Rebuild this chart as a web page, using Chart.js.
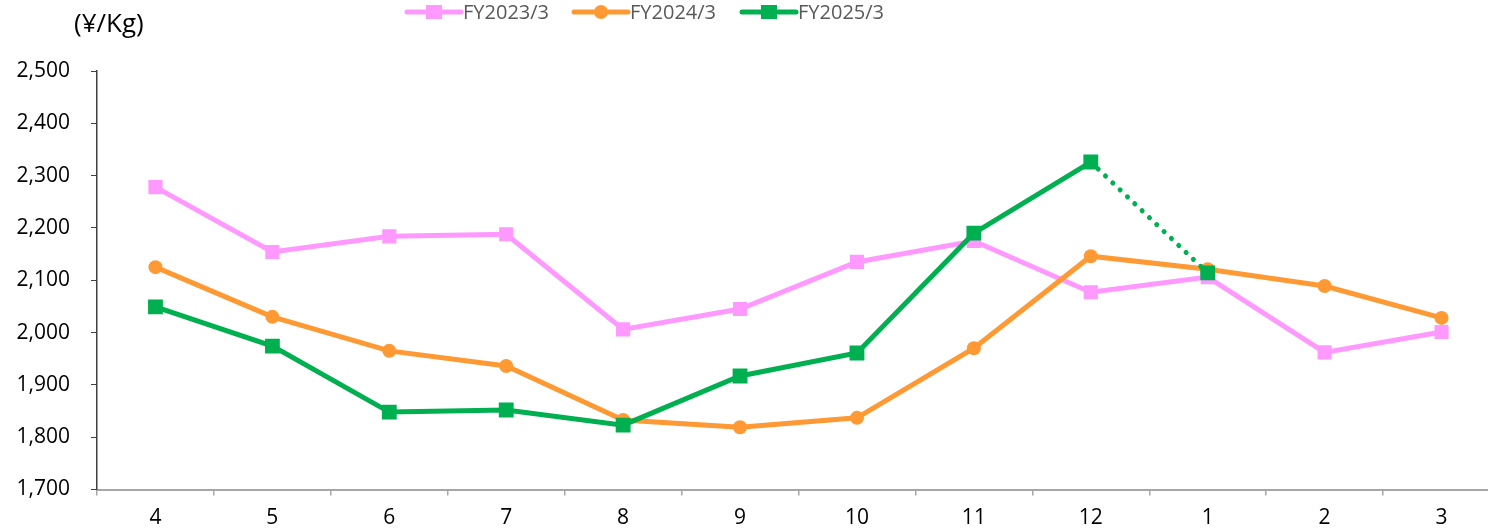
<!DOCTYPE html>
<html lang="ja">
<head>
<meta charset="UTF-8">
<title>単価推移</title>
<script src="https://cdn.jsdelivr.net/npm/chart.js@4.4.1/dist/chart.umd.min.js"></script>
<style>
  html, body { margin: 0; padding: 0; background: #fff; overflow: hidden; }
  /* un poco más ancho que la ventana: el eje x se corta a la derecha como en el original */
  #wrap { width: 1500px; height: 532px; }
</style>
</head>
<body>
<div id="wrap"><canvas id="grafico"></canvas></div>
<script>
// meses del año fiscal (abril a marzo)
const meses = ['4', '5', '6', '7', '8', '9', '10', '11', '12', '1', '2', '3'];
const fy2023 = [2278, 2154, 2184, 2188, 2006, 2045, 2135, 2175, 2077, 2106, 1962, 2001];
const fy2024 = [2125, 2030, 1965, 1936, 1833, 1819, 1837, 1970, 2146, 2121, 2089, 2028];
const fy2025 = [2049, 1974, 1848, 1852, 1823, 1917, 1961, 2190, 2326, 2114, null, null];
const etiquetas = ['FY2023/3', 'FY2024/3', 'FY2025/3'];
const unidad = '(¥/Kg)';

const ROSA = '#FF99FF', NARANJA = '#FF9933', VERDE = '#00B050';
const FUENTE = '"Open Sans", sans-serif';

// leyenda y título del eje dibujados a mano
const extras = {
  id: 'extras',
  afterDraw(chart) {
    const ctx = chart.ctx;
    ctx.save();
    ctx.fillStyle = '#000';
    ctx.font = '26px ' + FUENTE;
    ctx.textBaseline = 'middle';
    ctx.textAlign = 'left';
    ctx.fillText(unidad, 74, 25);

    const posX = [407, 574, 742];
    ctx.font = '20px ' + FUENTE;
    chart.data.datasets.forEach((ds, i) => {
      const x = posX[i], y = 12;
      ctx.strokeStyle = ds.borderColor;
      ctx.lineWidth = 5;
      ctx.lineCap = 'round';
      ctx.beginPath();
      ctx.moveTo(x, y);
      ctx.lineTo(x + 54, y);
      ctx.stroke();
      ctx.fillStyle = ds.borderColor;
      if (ds.pointStyle === 'circle') {
        ctx.beginPath();
        ctx.arc(x + 27, y, 7, 0, Math.PI * 2);
        ctx.fill();
      } else {
        ctx.fillRect(x + 19, y - 7, 16, 14);
      }
      ctx.fillStyle = '#595959';
      ctx.fillText(ds.label, x + 56, y + 1);
    });
    ctx.restore();
  }
};

const datasets = [
  {
    label: etiquetas[0], data: fy2023, borderColor: ROSA, backgroundColor: ROSA,
    pointStyle: 'rect', pointRadius: 10, borderWidth: 5, order: 2
  },
  {
    label: etiquetas[1], data: fy2024, borderColor: NARANJA, backgroundColor: NARANJA,
    pointStyle: 'circle', pointRadius: 7, borderWidth: 5, order: 1
  },
  {
    label: etiquetas[2], data: fy2025, borderColor: VERDE, backgroundColor: VERDE,
    pointStyle: 'rect', pointRadius: 10.5, borderWidth: 5, order: 0,
    borderCapStyle: 'round',
    // tramo 12 -> 1 punteado
    segment: { borderDash: c => c.p0DataIndex === 8 ? [0.1, 10] : undefined }
  }
];
datasets.forEach(d => { d.pointBorderWidth = 0; d.tension = 0; d.fill = false; });

new Chart(document.getElementById('grafico'), {
  type: 'line',
  data: { labels: meses, datasets: datasets },
  options: {
    responsive: true,
    maintainAspectRatio: false,
    animation: false,
    layout: { autoPadding: false, padding: { top: 71, right: 0, left: 0, bottom: 0 } },
    plugins: { legend: { display: false }, tooltip: { enabled: false } },
    scales: {
      x: {
        offset: true,
        grid: { offset: true, drawOnChartArea: false, drawTicks: true, tickLength: 6, color: '#A6A6A6', lineWidth: 1.5 },
        border: { display: true, color: '#A6A6A6', width: 2 },
        ticks: { color: '#000', font: { size: 21, family: FUENTE }, padding: 10, maxRotation: 0 },
        afterFit: s => { s.height = 42.5; }
      },
      y: {
        min: 1700, max: 2500,
        grid: { drawOnChartArea: false, drawTicks: true, tickLength: 6, color: '#404040' },
        border: { display: true, color: '#404040', width: 1.5 },
        ticks: {
          stepSize: 100, color: '#000', font: { size: 21, family: FUENTE }, padding: 21,
          callback: v => v.toLocaleString('en-US')
        },
        afterFit: s => { s.width = 97; }
      }
    }
  },
  plugins: [extras]
});
</script>
</body>
</html>
